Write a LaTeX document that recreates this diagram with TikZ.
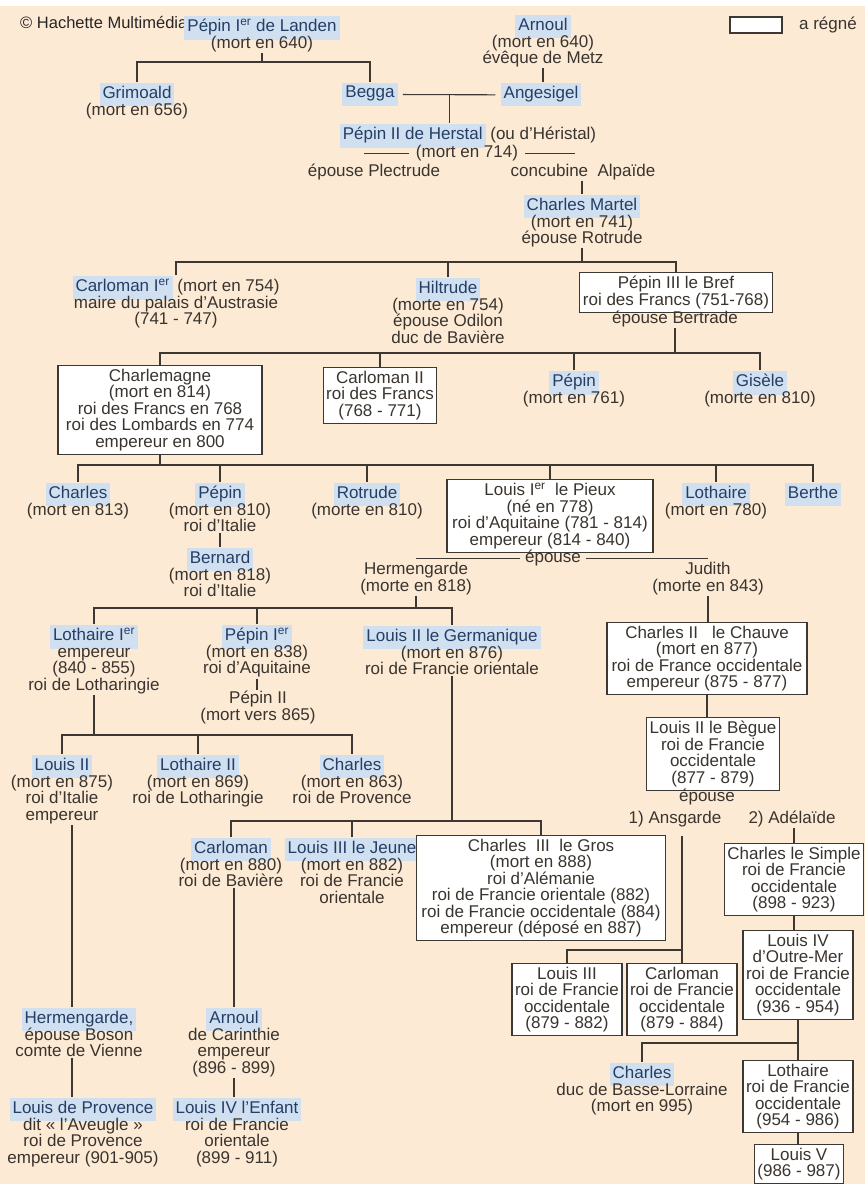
\documentclass[tikz,border=0pt]{standalone}
\usepackage{fontspec}
\setmainfont{Liberation Sans}
\usetikzlibrary{calc}

\definecolor{bg}{RGB}{252,234,213}
\definecolor{hl}{RGB}{208,224,241}
\definecolor{nmtext}{RGB}{36,62,100}
\definecolor{ink}{RGB}{58,52,46}
\definecolor{linec}{RGB}{62,56,50}

\newcommand{\treefont}{\fontsize{17}{16.5}\selectfont\lineskiplimit=-100pt\relax}
\newcommand{\nm}[1]{{\setlength{\fboxsep}{3pt}\colorbox{hl}{\color{nmtext}\strut #1}}}
\newcommand{\ier}{I\textsuperscript{er}}

\begin{document}
\begin{tikzpicture}[
  x=1pt, y=-1pt,
  txt/.style={align=center, text=ink, font=\treefont},
  person/.style={txt, inner sep=1pt, anchor=north, yshift=8pt},
  reign/.style={
    txt,
    draw=linec,
    fill=white,
    line width=1.1pt,
    inner xsep=3pt,
    inner ysep=3.5pt,
    anchor=north
  },
  link/.style={draw=linec, line width=1.1pt}
]

\fill[white] (0,0) rectangle (865,1184);
\fill[bg] (0,6) rectangle (865,1184);
\useasboundingbox (0,0) rectangle (865,1184);

% header and legend
\node[anchor=west, inner sep=0pt, text=black!85, font=\fontsize{16.5}{16}\selectfont] (copy) at (20,23) {© Hachette Multimédia};
\node[draw=linec, fill=white, line width=1.1pt, minimum width=52pt, minimum height=16pt, inner sep=0pt] (legend) at (756,25) {};
\node[txt, anchor=west, xshift=13pt] (legendtxt) at (legend.east) {a régné};

% Pippinides and Arnulfings
\node[person] (landen) at (262,23) {\nm{Pépin \ier{} de Landen}\\(mort en 640)};
\node[person] (arnoul) at (543,22) {\nm{Arnoul}\\(mort en 640)\\évêque de Metz};
\node[person] (grimoald) at (137,90) {\nm{Grimoald}\\(mort en 656)};
\node[person] (begga) at (370,90) {\nm{Begga}};
\node[person] (angesigel) at (541,90) {\nm{Angesigel}};
\node[person] (herstal) at (468,131) {\nm{Pépin II de Herstal} (ou d'Héristal)};
\node[person] (herstaldate) at (467,152) {(mort en 714)};
\node[person] (plectrude) at (374,171) {épouse Plectrude};
\node[person] (alpaide) at (583,171) {concubine\ \ Alpaïde};
\node[person] (martel) at (582,202) {\nm{Charles Martel}\\(mort en 741)\\épouse Rotrude};

% children of Charles Martel
\node[person] (carlomanI) at (176,283) {\nm{Carloman \ier} (mort en 754)\\maire du palais d'Austrasie\\(741 - 747)};
\node[person] (hiltrude) at (448,285) {\nm{Hiltrude}\\(morte en 754)\\épouse Odilon\\duc de Bavière};
\node[reign] (pepinIII) at (676,272) {Pépin III le Bref\\roi des Francs (751-768)};
\node[person] (bertrade) at (675,318) {épouse Bertrade};

% children of Pepin III
\node[reign, minimum width=204pt] (charlemagne) at (160,365) {Charlemagne\\(mort en 814)\\roi des Francs en 768\\roi des Lombards en 774\\empereur en 800};
\node[reign] (carlomanII) at (380,367) {Carloman II\\roi des Francs\\(768 - 771)};
\node[person] (pepin761) at (574,378) {\nm{Pépin}\\(mort en 761)};
\node[person] (gisele) at (760,378) {\nm{Gisèle}\\(morte en 810)};

% children of Charlemagne
\node[person] (charles813) at (78,490) {\nm{Charles}\\(mort en 813)};
\node[person] (pepin810) at (220,490) {\nm{Pépin}\\(mort en 810)\\roi d'Italie};
\node[person] (rotrude) at (367,490) {\nm{Rotrude}\\(morte en 810)};
\node[reign, minimum width=206pt] (louisI) at (550,479) {Louis \ier\ \ le Pieux\\(né en 778)\\roi d'Aquitaine (781 - 814)\\empereur (814 - 840)};
\node[person] (lothaire780) at (716,490) {\nm{Lothaire}\\(mort en 780)};
\node[person] (berthe) at (813,490) {\nm{Berthe}};
\node[person] (bernard) at (220,555) {\nm{Bernard}\\(mort en 818)\\roi d'Italie};

% wives of Louis the Pious
\node[person] (epouse1) at (553,557) {épouse};
\node[person] (hermengarde) at (416,569) {Hermengarde\\(morte en 818)};
\node[person] (judith) at (708,569) {Judith\\(morte en 843)};

% grandsons
\node[person] (lothaireI) at (94,632) {\nm{Lothaire \ier}\\empereur\\(840 - 855)\\roi de Lotharingie};
\node[person] (pepinIer) at (257,632) {\nm{Pépin \ier}\\(mort en 838)\\roi d'Aquitaine};
\node[person] (pepinII) at (258,698) {Pépin II\\(mort vers 865)};
\node[person] (germanique) at (452,633) {\nm{Louis II le Germanique}\\(mort en 876)\\roi de Francie orientale};
\node[reign, minimum width=200pt] (chauve) at (707,622) {Charles II\ \ \ le Chauve\\(mort en 877)\\roi de France occidentale\\empereur (875 - 877)};
\node[reign] (begue) at (713,717) {Louis II le Bègue\\roi de Francie\\occidentale\\(877 - 879)};

% children of Lothaire I
\node[person] (louisII) at (62,762) {\nm{Louis II}\\(mort en 875)\\roi d'Italie\\empereur};
\node[person] (lothaireII) at (198,762) {\nm{Lothaire II}\\(mort en 869)\\roi de Lotharingie};
\node[person] (charles863) at (352,762) {\nm{Charles}\\(mort en 863)\\roi de Provence};

% wives of Louis the Stammerer
\node[person] (epouse2) at (707,796) {épouse};
\node[person] (ansgarde) at (675,818) {1) Ansgarde};
\node[person] (adelaide) at (792,818) {2) Adélaïde};

% children of Louis the German
\node[person] (carloman880) at (231,845) {\nm{Carloman}\\(mort en 880)\\roi de Bavière};
\node[person] (jeune) at (352,845) {\nm{Louis III le Jeune}\\(mort en 882)\\roi de Francie\\orientale};
\node[reign, minimum width=249pt] (gros) at (541,835) {Charles\ \ III\ \ le Gros\\(mort en 888)\\roi d'Alémanie\\roi de Francie orientale (882)\\roi de Francie occidentale (884)\\empereur (déposé en 887)};

% West Francia
\node[reign] (simple) at (794,843) {Charles le Simple\\roi de Francie\\occidentale\\(898 - 923)};
\node[reign] (louisIV) at (798,930) {Louis IV\\d'Outre-Mer\\roi de Francie\\occidentale\\(936 - 954)};
\node[reign] (louisIII) at (567,963) {Louis III\\roi de Francie\\occidentale\\(879 - 882)};
\node[reign] (carlomanB) at (682,963) {Carloman\\roi de Francie\\occidentale\\(879 - 884)};
\node[person] (charlesBL) at (642,1070) {\nm{Charles}\\duc de Basse-Lorraine\\(mort en 995)};
\node[reign] (lothaireB) at (798,1060) {Lothaire\\roi de Francie\\occidentale\\(954 - 986)};
\node[reign] (louisV) at (799,1144) {Louis V\\(986 - 987)};

% bottom left
\node[person] (hermB) at (79,1015) {\nm{Hermengarde,}\\épouse Boson\\comte de Vienne};
\node[person] (provence) at (83,1105) {\nm{Louis de Provence}\\dit « l'Aveugle »\\roi de Provence\\empereur (901-905)};
\node[person] (arnoulC) at (234,1015) {\nm{Arnoul}\\de Carinthie\\empereur\\(896 - 899)};
\node[person] (enfant) at (237,1105) {\nm{Louis IV l'Enfant}\\roi de Francie\\orientale\\(899 - 911)};

% bars of the tree
\coordinate (b1) at (262,62);
\coordinate (bm) at (582,262);
\coordinate (b3) at (675,353);
\coordinate (b4) at (160,465);
\coordinate (b5) at (416,608);
\coordinate (b6) at (94,735);
\coordinate (b7) at (452,821);
\coordinate (b8) at (682,950);
\coordinate (b9) at (798,1043);
\coordinate (bw) at ($(begga.east)!0.5!(angesigel.west)$);

\draw[link] (landen.south) -- (landen.south |- b1);
\draw[link] (grimoald.north) |- (b1) -| (begga.north);
\draw[link] (arnoul.south) -- (arnoul.south |- angesigel.north);
\draw[link, shorten <=4pt, shorten >=4pt] (begga.east) -- (angesigel.west);
\draw[link] (bw) -- (bw |- herstal.north);
\draw[link] ([xshift=-6pt]herstaldate.west) -- ++(-45,0);
\draw[link] ([xshift=6pt]herstaldate.east) -- ++(50,0);
\draw[link] (alpaide.south -| martel.north) -- (martel.north);

\draw[link] (martel.south) -- (martel.south |- bm);
\draw[link] (carlomanI.north) |- (bm) -| (pepinIII.north);
\draw[link] (hiltrude.north) -- (hiltrude.north |- bm);

\draw[link] (bertrade.south) -- (bertrade.south |- b3);
\draw[link] (charlemagne.north) |- (b3) -| (gisele.north);
\draw[link] (carlomanII.north) -- (carlomanII.north |- b3);
\draw[link] (pepin761.north) -- (pepin761.north |- b3);

\draw[link] (charlemagne.south) -- (charlemagne.south |- b4);
\draw[link] (charles813.north) |- (b4) -| (berthe.north);
\draw[link] (pepin810.north) -- (pepin810.north |- b4);
\draw[link] (rotrude.north) -- (rotrude.north |- b4);
\draw[link] (louisI.north) -- (louisI.north |- b4);
\draw[link] (lothaire780.north) -- (lothaire780.north |- b4);
\draw[link] (pepin810.south) -- (pepin810.south |- bernard.north);

\draw[link, shorten <=4pt] (epouse1.west) -- (epouse1.west -| hermengarde.north);
\draw[link, shorten <=4pt] (epouse1.east) -- (epouse1.east -| judith.north);

\draw[link] (hermengarde.south) -- (hermengarde.south |- b5);
\draw[link] (lothaireI.north) |- (b5) -| (germanique.north);
\draw[link] (pepinIer.north) -- (pepinIer.north |- b5);
\draw[link] (pepinIer.south) -- (pepinIer.south |- pepinII.north);

\draw[link] (judith.south) -- (judith.south |- chauve.north);
\draw[link] (chauve.south) -- (chauve.south |- begue.north);

\draw[link] (lothaireI.south) -- (lothaireI.south |- b6);
\draw[link] (louisII.north) |- (b6) -| (charles863.north);
\draw[link] (lothaireII.north) -- (lothaireII.north |- b6);
\draw[link] ([xshift=10pt]louisII.south) -- ([xshift=10pt]louisII.south |- hermB.north);
\draw[link] ([xshift=-7pt]hermB.south) -- ([xshift=-7pt]hermB.south |- provence.north);

\draw[link] (germanique.south) -- (germanique.south |- b7);
\draw[link] (carloman880.north) |- (b7) -| (gros.north);
\draw[link] (jeune.north) -- (jeune.north |- b7);
\draw[link] (carloman880.south -| arnoulC.north) -- (arnoulC.north);
\draw[link] (arnoulC.south) -- (arnoulC.south |- enfant.north);

\draw[link] ([yshift=-8pt]ansgarde.south -| carlomanB.north) -- (carlomanB.north);
\draw[link] (louisIII.north) |- (b8);
\draw[link] (adelaide.south -| simple.north) -- (simple.north);
\draw[link] (simple.south) -- (simple.south |- louisIV.north);
\draw[link] (louisIV.south) -- (louisIV.south |- lothaireB.north);
\draw[link] (charlesBL.north) |- (b9);
\draw[link] (lothaireB.south) -- (lothaireB.south |- louisV.north);

\end{tikzpicture}
\end{document}
